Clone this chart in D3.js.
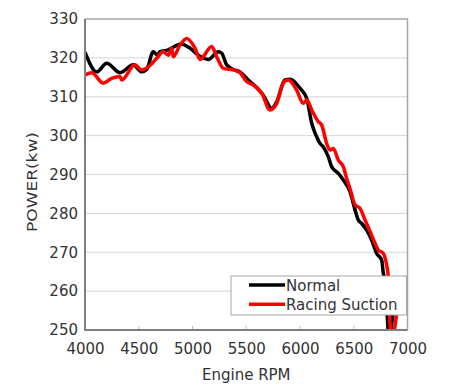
<!DOCTYPE html>
<html>
<head>
<meta charset="utf-8">
<script src="https://cdn.jsdelivr.net/npm/d3@7"></script>
<style>
  body { margin: 0; background: #fff; }
  text { font-family: "DejaVu Sans", Verdana, sans-serif; fill: #333; }
</style>
</head>
<body>
<svg id="chart" width="450" height="387"></svg>
<script>
// Engine RPM vs power
const normalRpm = [4000, 4109, 4202, 4326, 4449, 4527, 4574, 4635, 4673, 4698, 4766, 4893, 4977, 5054, 5147, 5240, 5272, 5318, 5380, 5442, 5519, 5597, 5659, 5737, 5783, 5860, 5907, 6000, 6062, 6109, 6155, 6186, 6217, 6263, 6295, 6356, 6403, 6465, 6512, 6542, 6574, 6620, 6667, 6713, 6760, 6775, 6791, 6819, 6833, 6847, 6865, 6884];
const normalKw = [321.5, 316.4, 318.6, 316.2, 318.2, 316.4, 317, 321.6, 320.7, 321.6, 322, 323.6, 322.5, 320.7, 319.6, 321.6, 321.2, 318.2, 317, 316.4, 314.3, 312.4, 310.4, 307, 308.7, 314.3, 314.5, 312.2, 309.6, 303.2, 299.7, 298, 297.1, 294.6, 292, 290.3, 288.6, 285.6, 280.9, 278.3, 277.4, 275.7, 273.1, 269.7, 268, 264.6, 262.9, 250, 244, 250, 254, 258];

const racingRpm = [4000, 4062, 4170, 4248, 4326, 4341, 4465, 4527, 4589, 4667, 4728, 4775, 4807, 4821, 4884, 4946, 5023, 5070, 5179, 5225, 5287, 5380, 5442, 5504, 5566, 5644, 5721, 5783, 5845, 5891, 5969, 6031, 6062, 6109, 6170, 6202, 6248, 6279, 6310, 6356, 6403, 6434, 6465, 6512, 6558, 6605, 6651, 6698, 6728, 6775, 6806, 6821, 6833, 6842, 6861, 6879, 6898, 6912];
const racingKw = [315.6, 316.2, 313.5, 314.7, 315.2, 314.3, 318.2, 316.9, 317.7, 319.9, 321.6, 320.7, 322.5, 320.3, 323.3, 325, 322.5, 319.6, 322.9, 320.3, 317.3, 316.9, 316.2, 313.9, 313, 310.9, 306.6, 308.3, 313.5, 314.3, 311.7, 308.3, 309.2, 306.6, 303.6, 302.7, 298, 296.3, 296.7, 293.7, 292, 289, 286.4, 282.2, 281.3, 278.3, 275.4, 272.3, 270.6, 269.7, 266.7, 263.7, 254, 250, 245, 250, 254, 258];

const xTicks = [4000, 4500, 5000, 5500, 6000, 6500, 7000];
const yTicks = [250, 260, 270, 280, 290, 300, 310, 320, 330];
const seriesNames = ["Normal", "Racing Suction"];
const seriesColors = ["#000000", "#ff0000"];

const margin = { top: 19, right: 42.5, bottom: 57, left: 85 };
const width = 450 - margin.left - margin.right;
const height = 387 - margin.top - margin.bottom;

const svg = d3.select("#chart");

const x = d3.scaleLinear().domain([4000, 7000]).range([0, width]);
const y = d3.scaleLinear().domain([250, 330]).range([height, 0]);

const g = svg.append("g")
    .attr("transform", `translate(${margin.left},${margin.top})`);

g.append("clipPath")
    .attr("id", "plot-clip")
    .append("rect")
    .attr("width", width)
    .attr("height", height);

// gridlines
g.append("g")
    .selectAll("line")
    .data(yTicks.filter(d => d > 250 && d < 330))
    .join("line")
    .attr("x1", 0)
    .attr("x2", width)
    .attr("y1", d => y(d))
    .attr("y2", d => y(d))
    .attr("stroke", "#d4d4d4")
    .attr("stroke-width", 1);

// frame: top & right lighter
g.append("path")
    .attr("d", `M0,${y(330)}H${width}V${height}`)
    .attr("fill", "none")
    .attr("stroke", "#a6a6a6")
    .attr("stroke-width", 1.5);

// small inner ticks on the bottom
g.append("g")
    .selectAll("line")
    .data(xTicks.slice(1, -1))
    .join("line")
    .attr("x1", d => x(d))
    .attr("x2", d => x(d))
    .attr("y1", height)
    .attr("y2", height - 4)
    .attr("stroke", "#bbb")
    .attr("stroke-width", 1);

// series
const series = [
    { name: seriesNames[0], color: seriesColors[0], values: normalRpm.map((r, i) => [r, normalKw[i]]) },
    { name: seriesNames[1], color: seriesColors[1], values: racingRpm.map((r, i) => [r, racingKw[i]]) }
];

const line = d3.line()
    .x(d => x(d[0]))
    .y(d => y(d[1]))
    .curve(d3.curveMonotoneX);

g.append("g")
    .attr("clip-path", "url(#plot-clip)")
    .selectAll("path")
    .data(series)
    .join("path")
    .attr("d", d => line(d.values))
    .attr("fill", "none")
    .attr("stroke", d => d.color)
    .attr("stroke-width", 3.5)
    .attr("stroke-linejoin", "round");

// axes
const yAxis = g.append("g")
    .call(d3.axisLeft(y).tickValues(yTicks).tickSize(0).tickPadding(7));
yAxis.select(".domain").remove();
yAxis.selectAll("text")
    .style("font-size", "15px")
    .style("font-family", "DejaVu Sans")
    .attr("fill", "#333");

const xAxis = g.append("g")
    .attr("transform", `translate(0,${height})`)
    .call(d3.axisBottom(x).tickValues(xTicks).tickFormat(d3.format("d")).tickSize(0).tickPadding(13));
xAxis.select(".domain").remove();
xAxis.selectAll("text")
    .style("font-size", "15px")
    .style("font-family", "DejaVu Sans")
    .attr("fill", "#333");

// left & bottom axis lines
g.append("path")
    .attr("d", `M0,0V${height}H${width}`)
    .attr("fill", "none")
    .attr("stroke", "#7f7f7f")
    .attr("stroke-width", 2);

// axis titles
svg.append("text")
    .attr("x", margin.left + width / 2)
    .attr("y", 380)
    .attr("text-anchor", "middle")
    .style("font-size", "15px")
    .text("Engine RPM");

svg.append("text")
    .attr("transform", "translate(37,182) rotate(-90)")
    .attr("text-anchor", "middle")
    .attr("textLength", 100)
    .attr("lengthAdjust", "spacingAndGlyphs")
    .style("font-size", "14px")
    .text("POWER(kw)");

// legend
const legend = svg.append("g").attr("transform", "translate(231,276)");
legend.append("rect")
    .attr("width", 175.5)
    .attr("height", 39)
    .attr("fill", "#fff")
    .attr("stroke", "#a6a6a6")
    .attr("stroke-width", 1);

const items = legend.selectAll("g")
    .data(series)
    .join("g")
    .attr("transform", (d, i) => `translate(0,${9 + i * 19.3})`);
items.append("line")
    .attr("x1", 18)
    .attr("x2", 54)
    .attr("stroke", d => d.color)
    .attr("stroke-width", 3.5);
items.append("text")
    .attr("x", 55)
    .attr("y", 6)
    .style("font-size", "15px")
    .text(d => d.name);
</script>
</body>
</html>
